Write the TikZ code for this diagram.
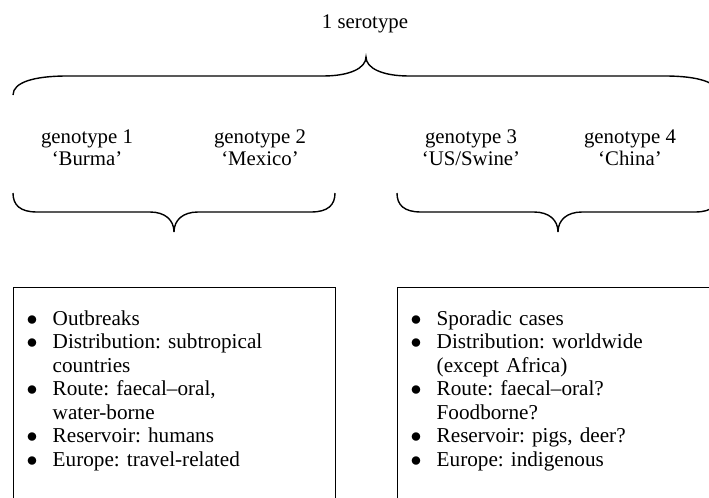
\documentclass[tikz,border=0pt]{standalone}
\usepackage{fontspec}
\setmainfont{Liberation Serif}

% one bullet line with a hanging indent
\newcommand\bitem[1]{\par\noindent\hangindent=19.5pt\hangafter=1%
  \makebox[19.5pt][l]{\hspace{6.5pt}$\bullet$}#1}

\begin{document}
\frenchspacing
\begin{tikzpicture}[x=0.5pt,y=-0.5pt,line width=0.7pt,
  every node/.style={font=\fontsize{10.4}{11}\selectfont,inner sep=0pt},
  label text/.style={anchor=base},
  list box/.style={draw,anchor=north west,minimum width=161pt,minimum height=125pt},
  list text/.style={anchor=north west,text width=150pt,align=left,
    font=\fontsize{10.6}{11.75}\selectfont}]
\useasboundingbox (0,0) rectangle (709,498);

% top brace
\coordinate (topL) at (13,95);
\coordinate (topTip) at (366,57);
\coordinate (topR) at (719,95);
\draw (topL) .. controls (13,82) and (35,76) .. (67,76) -- (323,76)
  .. controls (350,76) and (366,68) .. (topTip)
  .. controls (366,68) and (382,76) .. (409,76) -- (665,76)
  .. controls (697,76) and (719,82) .. (topR);

\node[label text] (sero) at (365,28) {1 serotype};

\foreach \x/\n/\q in {87/1/Burma,260/2/Mexico,471/3/{US/Swine},630/4/China}{
  \node[label text] (geno\n) at (\x,143) {genotype \n};
  \node[label text] (name\n) at (\x,165) {`\q'};
}

% lower braces
\foreach \s in {0,384}{
  \draw (13+\s,193) .. controls (13+\s,205) and (20+\s,212) .. (37+\s,212) -- (150+\s,212)
    .. controls (165+\s,212) and (174+\s,220) .. (174+\s,232)
    .. controls (174+\s,220) and (183+\s,212) .. (198+\s,212) -- (311+\s,212)
    .. controls (328+\s,212) and (335+\s,205) .. (335+\s,193);
}

% boxes
\node[list box] (leftbox) at (13,287) {};
\node[list box] (rightbox) at (397,287) {};

\node[list text] (leftlist) at (13,301) {%
  \bitem{Outbreaks}
  \bitem{Distribution: subtropical\newline countries}
  \bitem{Route: faecal--oral,\newline water-borne}
  \bitem{Reservoir: humans}
  \bitem{Europe: travel-related}};

\node[list text] (rightlist) at (397,301) {%
  \bitem{Sporadic cases}
  \bitem{Distribution: worldwide\newline (except Africa)}
  \bitem{Route: faecal--oral?\newline Foodborne?}
  \bitem{Reservoir: pigs, deer?}
  \bitem{Europe: indigenous}};

\end{tikzpicture}
\end{document}
